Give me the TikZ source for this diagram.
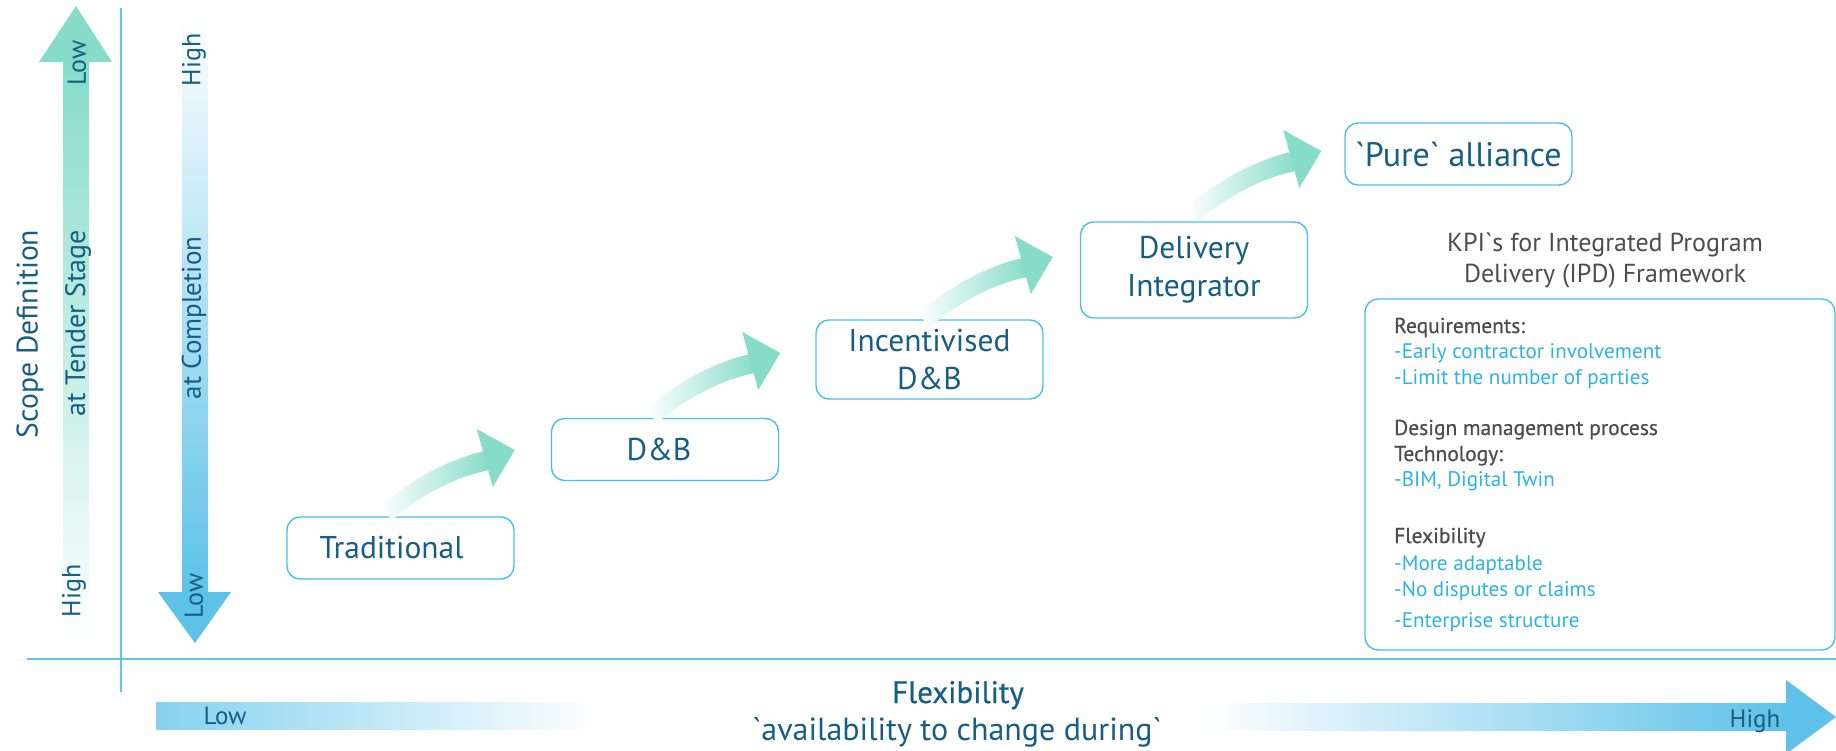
\documentclass[tikz,border=0pt]{standalone}
\usepackage{fontspec}
\newfontfamily\ptsans{PT Sans}
\newfontfamily\ptsansmed{PT Sans}[FakeBold=0.6]
\usetikzlibrary{calc}
\definecolor{txt}{HTML}{165E86}
\definecolor{boxc}{HTML}{45BFEE}
\definecolor{tealc}{HTML}{86DCC9}
\definecolor{bluec}{HTML}{5EC2E8}
\definecolor{axisc}{HTML}{5CC8F2}
\definecolor{kgray}{HTML}{4D4D4D}
\definecolor{kblue}{HTML}{2BB3E6}
\tikzset{
  every node/.style={font=\ptsans, text=txt, inner sep=0pt},
  box/.style={draw=boxc, line width=1.4pt, rounded corners=13pt, minimum width=227pt,
    minimum height=62pt, font=\ptsans\fontsize{31.5}{38}\selectfont, align=center},
  vlab/.style={rotate=90, font=\ptsans\fontsize{26}{26}\selectfont},
  kh/.style={anchor=base west, text=kgray, font=\ptsansmed\fontsize{21.5}{24}\selectfont},
  ki/.style={anchor=base west, text=kblue, font=\ptsans\fontsize{21.1}{24}\selectfont},
  axisline/.style={draw=axisc, line width=2.2pt},
}
\newcommand{\stagearrow}[2]{%
  \begin{scope}[shift={($(#1.west)+#2$)}]
    \shade[left color=white, right color=tealc]
      (-135,56) .. controls (-105,31) and (-67,9) .. (-30,1) -- (-25,20)
      .. controls (-61,27) and (-93,45) .. (-123,70) -- cycle;
    \fill[tealc] (-38,-21) -- (0,0) -- (-22,37) -- cycle;
  \end{scope}}
\begin{document}
\begin{tikzpicture}[x=1pt,y=-1pt]
\useasboundingbox (0,0) rectangle (1836,750);
% left vertical arrows
\shade[top color=tealc, middle color=tealc!55, bottom color=white] (63,62) rectangle (89,643);
\fill[tealc] (39,62) -- (76,6) -- (112,62) -- cycle;
\shade[top color=white, middle color=bluec!45, bottom color=bluec] (182,10) rectangle (208,592);
\fill[bluec] (158,592) -- (231,592) -- (195,643) -- cycle;
% bottom arrows
\shade[left color=bluec!75, right color=white] (156,702) rectangle (603,729);
\shade[left color=white, right color=bluec] (1202,703) rectangle (1786,730);
\fill[bluec] (1786,680) -- (1836,717) -- (1786,754) -- cycle;
% axes
\coordinate (vtop) at (121,8);
\coordinate (vbot) at (121,692);
\coordinate (hleft) at (27,659);
\coordinate (hright) at (1836,659);
\draw[axisline] (vtop) -- (vbot);
\draw[axisline] (hleft) -- (hright);
% left labels
\node[vlab] (lowA) at (77,63) {Low};
\node[vlab] (highA) at (74,591) {High};
\node[vlab, font=\ptsans\fontsize{28}{28}\selectfont] (tender) at (78,323) {at Tender Stage};
\node[vlab, font=\ptsans\fontsize{29.7}{30}\selectfont] (scope) at (30,334) {Scope Definition};
\node[vlab] (highB) at (194,60) {High};
\node[vlab] (lowB) at (194,596) {Low};
\node[vlab, font=\ptsans\fontsize{27}{27}\selectfont] (compl) at (194,318) {at Completion};
% boxes
\node[box] (trad) at (400.5,548) {Traditional\hspace*{18pt}};
\node[box] (db) at (665,449.5) {D\&B\hspace*{12pt}};
\node[box, minimum height=79pt] (inc) at (929.5,359.5) {Incentivised\\D\&B};
\node[box, minimum height=96pt] (deli) at (1194,270) {Delivery\\Integrator};
\node[box, font=\ptsans\fontsize{34}{38}\selectfont] (pure) at (1458.5,154) {`Pure` alliance};
% stage arrows
\stagearrow{db}{(-36,0.5)}
\stagearrow{inc}{(-35,-6.5)}
\stagearrow{deli}{(-27,-13)}
\stagearrow{pure}{(-23,-3)}
% KPI panel
\node[anchor=base, text=kgray, font=\ptsans\fontsize{26}{31}\selectfont] (kpi1) at (1605,251) {KPI`s for Integrated Program};
\node[anchor=base, text=kgray, font=\ptsans\fontsize{26}{31}\selectfont] (kpi2) at (1605,282) {Delivery (IPD) Framework};
\node[draw=boxc, line width=1.4pt, rounded corners=13pt, minimum width=470pt, minimum height=351pt] (kpi) at (1600,474.5) {};
\node[kh] (r1) at (1394,333) {Requirements:};
\node[ki] (r2) at (1394,358) {-Early contractor involvement};
\node[ki] (r3) at (1394,384) {-Limit the number of parties};
\node[kh] (r4) at (1394,435) {Design management process};
\node[kh] (r5) at (1394,461) {Technology:};
\node[ki] (r6) at (1394,486) {-BIM, Digital Twin};
\node[kh] (r7) at (1394,543) {Flexibility};
\node[ki] (r8) at (1394,570) {-More adaptable};
\node[ki] (r9) at (1394,596) {-No disputes or claims};
\node[ki] (r10) at (1394,627) {-Enterprise structure};
% bottom texts
\node[anchor=base, font=\ptsansmed\fontsize{31}{31}\selectfont] (flex) at (958,703) {Flexibility};
\node[anchor=base, font=\ptsans\fontsize{32}{32}\selectfont] (avail) at (957,740) {`availability to change during`};
\node[anchor=base, font=\ptsans\fontsize{25}{25}\selectfont] (lowC) at (225,724) {Low};
\node[anchor=base, font=\ptsans\fontsize{25}{25}\selectfont] (highC) at (1755,727) {High};
\end{tikzpicture}
\end{document}
